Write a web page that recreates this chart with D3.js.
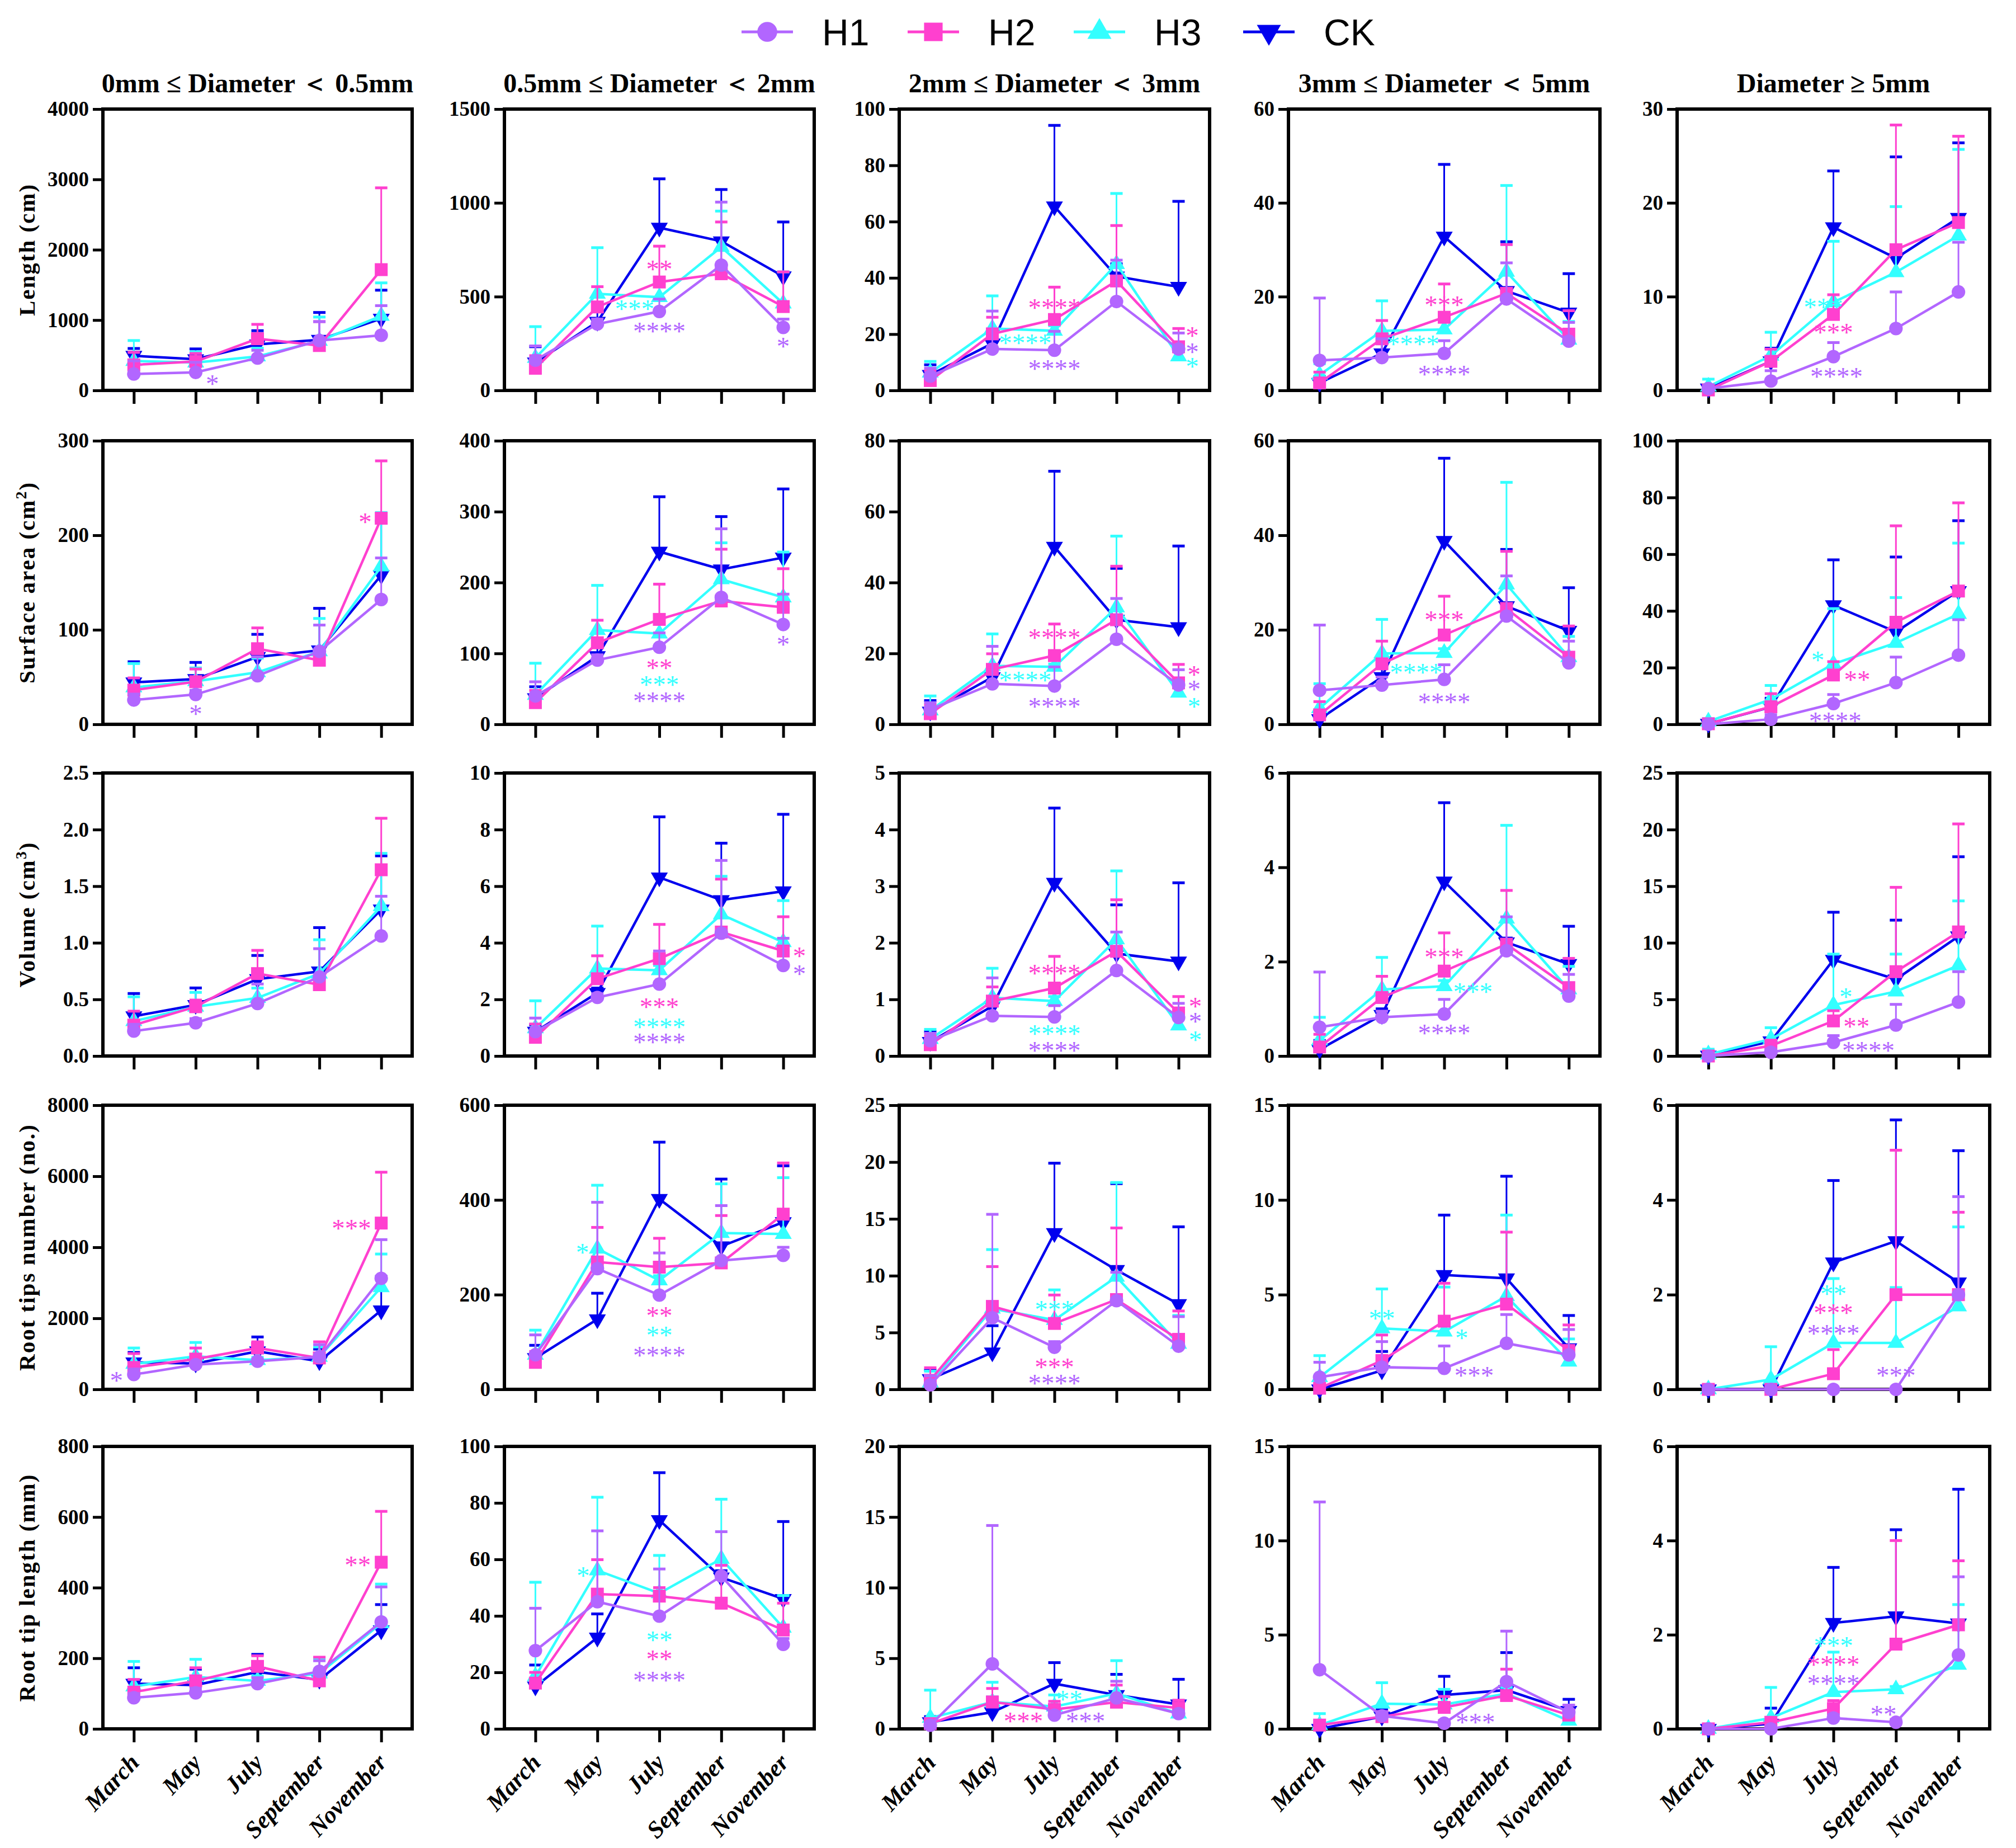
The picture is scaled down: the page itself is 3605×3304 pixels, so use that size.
<!DOCTYPE html>
<html>
<head>
<meta charset="utf-8">
<script src="https://cdnjs.cloudflare.com/ajax/libs/d3/7.8.5/d3.min.js"></script>
<style>
  body { margin: 0; background: #fff; }
  svg { display: block; }
</style>
</head>
<body>
<svg id="chart"></svg>
<script>
// ---------------- data ----------------
var months = ["March", "May", "July", "September", "November"];
var seriesNames = ["H1", "H2", "H3", "CK"];
var classTitles = ["0mm \u2264 Diameter \uFF1C 0.5mm", "0.5mm \u2264 Diameter \uFF1C 2mm",
  "2mm \u2264 Diameter \uFF1C 3mm", "3mm \u2264 Diameter \uFF1C 5mm", "Diameter \u2265 5mm"];
var metricTitles = [["Length (cm)", ""], ["Surface area (cm", "2", ")"], ["Volume (cm", "3", ")"],
  ["Root tips number (no.)", ""], ["Root tip length (mm)", ""]];

// y axis maximum and tick step per row (metric) and column (diameter class)
var yMax  = [[4000, 1500, 100, 60, 30], [300, 400, 80, 60, 100], [2.5, 10, 5, 6, 25],
             [8000, 600, 25, 15, 6], [800, 100, 20, 15, 6]];
var yStep = [[1000, 500, 20, 20, 10], [100, 100, 20, 20, 20], [0.5, 2, 1, 2, 5],
             [2000, 200, 5, 5, 2], [200, 20, 5, 5, 2]];

// means: [class][series H1,H2,H3,CK][month]; tops = mean + SD
var lengthMean = [
  [[233,256,460,709,784],[363,411,735,638,1717],[418,395,483,703,1059],[492,444,654,719,1020]],
  [[161,354,421,668,336],[118,445,578,622,447],[173,515,497,765,463],[149,366,868,795,608]],
  [[5.1,14.7,14.3,31.6,14.7],[3.5,20.1,25.2,38.9,15.5],[6.3,22,21.2,44.9,12.1],[5.5,16.7,65.4,40.5,36.8]],
  [[6.4,7,7.9,19.5,10.5],[1.6,11,15.6,20.7,12],[3.3,12.7,13,25.3,10.8],[1.6,7.9,32.8,21.2,16.6]],
  [[0.2,1.0,3.6,6.6,10.5],[0.05,3.1,8.1,15.0,17.9],[0.4,3.7,9.4,12.6,16.5],[0.2,3.1,17.4,14.1,18.4]]
];
var lengthTop = [
  [[420,400,570,978,1205],[541,525,939,978,2880],[709,550,600,1043,1529],[596,590,849,1108,1425]],
  [[237,380,487,1004,380],[185,553,769,898,632],[340,761,560,956,632],[233,450,1128,1071,898]],
  [[7.9,28.2,21,46.3,20.4],[7,26,36.7,58.6,22],[10.3,33.6,23,70,15],[9.1,20,94.2,45,67.2]],
  [[19.7,11,10.6,27.2,14.5],[3.9,14.9,22.7,31.1,17],[5.7,19.1,15,43.7,14.7],[3,12,48.2,31.7,24.9]],
  [[0.3,2.1,5.1,10.5,15.8],[0.3,4.4,10.2,28.3,27.1],[1.2,6.2,15.9,19.6,25.7],[0.5,4.5,23.4,24.9,26.4]]
];
// significance marks: [class, series, month position, value, label]
var lengthSig = [
  [0,"H1",1.27,136,"*"],
  [1,"H2",2,662,"**"],[1,"H3",1.6,451,"***"],[1,"H1",2,332,"****"],[1,"H1",4,251,"*"],
  [2,"H2",2,30.4,"****"],[2,"H3",1.53,17.9,"****"],[2,"H1",2,8.7,"****"],
  [2,"H2",4.22,20.4,"*"],[2,"H1",4.22,14.7,"*"],[2,"H3",4.22,9.5,"*"],
  [3,"H2",2,18.8,"***"],[3,"H3",1.5,10.5,"****"],[3,"H1",2,4.0,"****"],
  [4,"H3",1.84,9.2,"***"],[4,"H2",2,6.5,"***"],[4,"H1",2.05,1.8,"****"]
];

var areaMean = [
  [[25.7,31.6,51.4,77.2,132],[36.2,45.1,80,67.8,218],[39,45.6,55,77.2,167],[44.4,47.9,71.3,78.3,157.8]],
  [[40,90.6,108.7,179,140.8],[30.6,115,148,174,165],[41.5,133,128,204.5,179],[36.9,96.2,243.6,218.6,235.2]],
  [[4.2,11.4,10.8,24,11.1],[3,15.5,19.4,29.5,11.7],[3.9,16.5,16.2,33,8.9],[3.6,13.3,50.1,29.5,27.4]],
  [[7.2,8.3,9.5,22.9,13],[2,12.8,18.9,24.5,14.2],[3.4,15,15.1,29.6,14.2],[1.1,10,38.8,25,19.8]],
  [[0,1.8,7.3,14.7,24.4],[0.2,6.2,17.4,36,47],[1,8.8,21.3,28.7,38.9],[0.2,6.1,42,32.6,47]]
];
var areaTop = [
  [[32,36,71.3,105,176],[49.1,58.5,102,78,278.7],[64.3,59.6,70,112,224],[66.2,65.5,95.2,122.7,215]],
  [[60,98,129,275.8,183.6],[47.8,146.8,197.7,247,219.5],[86.2,196,150,256,243],[53,110,321,293,332]],
  [[6.1,22,16.2,35.5,15.4],[5.5,19.9,28.3,44.6,16.9],[8,25.5,17,53.1,11.4],[6.7,15,71.4,44,50.3]],
  [[21,10,12.6,31.4,17.6],[4.8,17.6,27.1,36.6,20.8],[8.6,22.2,16,51.2,18.6],[2,12,56.3,37,28.9]],
  [[0.3,3.4,10.5,23.7,36.9],[0.5,10.8,22.1,70,78.1],[2,13.7,40.8,44.7,63.9],[0.5,9.2,58,59,71.8]]
];
var areaSig = [
  [0,"H2",3.74,217,"*"],[0,"H1",1,14,"*"],
  [1,"H2",2,83.7,"**"],[1,"H3",2,59.6,"***"],[1,"H1",2,36.9,"****"],[1,"H1",4,116.5,"*"],
  [2,"H2",2,25.2,"****"],[2,"H3",1.53,13.3,"****"],[2,"H1",2,5.8,"****"],
  [2,"H2",4.25,14.9,"*"],[2,"H1",4.25,10.8,"*"],[2,"H3",4.25,5.8,"*"],
  [3,"H2",2,22.7,"***"],[3,"H3",1.55,11.6,"****"],[3,"H1",2,5.3,"****"],
  [4,"H3",1.75,23.7,"*"],[4,"H2",2.38,16.8,"**"],[4,"H1",2.03,2.2,"****"]
];

var volumeMean = [
  [[0.22,0.293,0.464,0.699,1.06],[0.273,0.435,0.728,0.63,1.645],[0.308,0.435,0.513,0.728,1.323],[0.351,0.451,0.679,0.747,1.294]],
  [[0.86,2.07,2.54,4.34,3.2],[0.66,2.73,3.44,4.38,3.71],[0.98,3.09,3.03,5.0,4.02],[0.86,2.23,6.31,5.51,5.82]],
  [[0.27,0.71,0.69,1.51,0.68],[0.2,0.97,1.2,1.85,0.76],[0.3,1.03,0.97,2.06,0.54],[0.25,0.88,3.06,1.81,1.67]],
  [[0.61,0.82,0.89,2.23,1.27],[0.19,1.24,1.8,2.37,1.45],[0.33,1.41,1.48,2.91,1.41],[0.14,0.87,3.7,2.41,1.95]],
  [[0,0.33,1.2,2.73,4.76],[0,0.9,3.1,7.45,10.96],[0.14,1.5,4.5,5.7,8.0],[0.04,1.3,8.5,6.77,10.57]]
];
var volumeTop = [
  [[0.28,0.33,0.636,0.948,1.411],[0.396,0.494,0.933,0.68,2.1],[0.523,0.562,0.6,1.027,1.79],[0.552,0.601,0.888,1.134,1.768]],
  [[1.34,2.2,3.71,6.91,4.16],[1.13,3.54,4.65,6.25,4.92],[1.95,4.59,3.2,6.35,5.49],[1.1,2.4,8.45,7.52,8.54]],
  [[0.4,1.38,0.89,2.19,0.93],[0.35,1.22,1.76,2.76,1.05],[0.47,1.55,1.05,3.27,0.7],[0.43,1.0,4.38,2.67,3.06]],
  [[1.78,0.95,1.2,2.95,1.73],[0.46,1.69,2.61,3.51,2.07],[0.82,2.09,1.6,4.89,1.9],[0.33,1.0,5.37,2.5,2.75]],
  [[0.05,0.6,1.8,4.56,7.45],[0.05,1.4,4.0,14.9,20.5],[0.6,2.5,9.0,9.0,13.7],[0.1,1.6,12.7,12.0,17.6]]
];
var volumeSig = [
  [1,"H2",2,1.84,"***"],[1,"H3",2,1.13,"****"],[1,"H1",2,0.59,"****"],
  [1,"H2",4.26,3.63,"*"],[1,"H1",4.26,3.0,"*"],
  [2,"H2",2,1.51,"****"],[2,"H3",2,0.44,"****"],[2,"H1",2,0.15,"****"],
  [2,"H2",4.27,0.93,"*"],[2,"H1",4.27,0.66,"*"],[2,"H3",4.27,0.34,"*"],
  [3,"H2",2,2.16,"***"],[3,"H3",2.46,1.42,"***"],[3,"H1",2,0.54,"****"],
  [4,"H3",2.2,5.5,"*"],[4,"H2",2.37,2.87,"**"],[4,"H1",2.56,0.72,"****"]
];

var tipsMean = [
  [[417,697,791,915,3125],[616,853,1164,884,4682],[716,928,822,915,2876],[760,728,1071,791,2223]],
  [[73,255,199,272,283],[57,269,258,267,370],[73,297,230,330,328],[66,148,402,302,353]],
  [[0.4,6.3,3.7,7.8,3.8],[0.8,7.3,5.8,7.9,4.4],[0.6,7.1,6.1,9.9,4.0],[0.9,3.25,13.75,10.5,7.5]],
  [[0.64,1.17,1.11,2.43,1.82],[0.06,1.52,3.6,4.5,2.05],[0.64,3.22,3.05,4.92,1.46],[0.0,1.0,6.04,5.86,2.17]],
  [[0,0,0,0,2.0],[0,0,0.33,2.0,2.0],[0,0.21,0.98,0.98,1.75],[0,0,2.68,3.13,2.26]]
];
var tipsTop = [
  [[573,750,850,1258,4215],[1008,1164,1338,1338,6114],[1164,1320,900,1195,3810],[1040,915,1475,1133,3180]],
  [[115,395,288,388,300],[80,342,319,367,478],[125,431,240,434,447],[93,203,522,444,472]],
  [[1.2,15.4,4.2,10.3,6.4],[1.9,10.8,8.3,14.2,6.9],[1.6,12.3,8.75,18.2,6.5],[1.7,5.6,19.9,18.1,14.3]],
  [[1.43,2.52,2.29,3.95,3.16],[0.2,2.87,5.6,8.3,3.4],[1.78,5.3,5.4,9.2,2.66],[0.1,2.0,9.2,11.25,3.9]],
  [[0,0,0,0,4.07],[0,0,0.84,5.05,3.74],[0,0.9,2.34,2.15,3.43],[0,0,4.41,5.69,5.04]]
];
var tipsSig = [
  [0,"H2",3.52,4620,"***"],[0,"H1",-0.28,324,"*"],
  [1,"H3",0.76,295,"*"],[1,"H2",2,162,"**"],[1,"H3",2,120,"**"],[1,"H1",2,78,"****"],
  [2,"H3",2,7.3,"***"],[2,"H2",2,2.2,"***"],[2,"H1",2,0.8,"****"],
  [3,"H3",1,3.9,"**"],[3,"H3",2.28,2.87,"*"],[3,"H1",2.48,0.88,"***"],
  [4,"H3",2,2.08,"**"],[4,"H2",2,1.68,"***"],[4,"H1",2,1.24,"****"],[4,"H1",3,0.35,"***"]
];

var tipLenMean = [
  [[88,102,128,163,303],[104,136,177,136,472],[120,147,136,157,299],[128,124,161,139,279]],
  [[27.7,45,39.9,54.1,29.9],[16.2,47.7,47,44.5,35],[18.6,56.1,48,60.2,35.8],[15.0,32.3,73.9,53.6,46]],
  [[0.26,4.6,0.97,2.19,1.08],[0.37,1.9,1.38,1.89,1.48],[0.77,1.9,1.58,2.5,1.08],[0.47,1.18,3.2,2.4,1.73]],
  [[3.14,0.69,0.3,2.51,0.88],[0.2,0.65,1.14,1.77,0.73],[0.2,1.34,1.29,1.87,0.43],[0,0.65,1.8,2.06,0.96]],
  [[0,0,0.23,0.14,1.57],[0,0.14,0.43,1.8,2.21],[0,0.23,0.78,0.84,1.36],[0,0.11,2.25,2.39,2.24]]
];
var tipLenTop = [
  [[100,115,145,193,402],[140,173,207,203,616],[191,197,150,200,410],[173,169,211,150,352]],
  [[42.7,70.1,56.6,69.8,32],[20,59.9,50,57.9,44.5],[51.9,82,61.4,81.3,47.2],[22.6,40.7,90.7,56,73.4]],
  [[0.4,14.4,1.2,3.37,1.3],[0.5,2.86,1.95,3.1,2.03],[2.74,3.3,2.4,4.83,1.3],[0.87,2.25,4.69,3.86,3.51]],
  [[12.05,0.9,0.45,5.19,1.26],[0.3,0.8,1.72,3.17,1.26],[0.81,2.45,2.1,2.2,0.6],[0.1,1.04,2.79,4.05,1.57]],
  [[0,0,0.3,0.2,3.23],[0,0.2,0.6,4.0,3.57],[0,0.88,1.63,0.9,2.64],[0,0.44,3.43,4.23,5.09]]
];
var tipLenSig = [
  [0,"H2",3.62,472,"**"],
  [1,"H3",0.77,55.3,"*"],[1,"H3",2,32.5,"**"],[1,"H2",2,25.7,"**"],[1,"H1",2,18.3,"****"],
  [2,"H2",1.5,0.77,"***"],[2,"H3",2.24,2.3,"**"],[2,"H1",2.5,0.77,"***"],
  [3,"H1",2.5,0.5,"***"],
  [4,"H3",2,1.83,"***"],[4,"H2",2,1.43,"****"],[4,"H1",2,1.02,"****"],[4,"H1",2.8,0.37,"**"]
];

// ---------------- layout & style ----------------
var W = 3605, H = 3304;
var colX = [[184, 737], [902, 1456], [1608, 2163], [2304, 2861], [2999, 3558]];
var rowY = [[195, 698], [788, 1295], [1382, 1888], [1976, 2484], [2586, 3091]];
var color = { H1: "#b266ff", H2: "#ff40cf", H3: "#33ffff", CK: "#0000ee" };
var shape = { H1: d3.symbolCircle, H2: d3.symbolSquare, H3: d3.symbolTriangle, CK: d3.symbolTriangle };
var symSize = { H1: 460, H2: 530, H3: 400, CK: 400 };
var drawOrder = ["CK", "H3", "H2", "H1"];
var serif = "'Liberation Serif', 'Times New Roman', serif";

var metrics = [
  { mean: lengthMean, top: lengthTop, sig: lengthSig },
  { mean: areaMean, top: areaTop, sig: areaSig },
  { mean: volumeMean, top: volumeTop, sig: volumeSig },
  { mean: tipsMean, top: tipsTop, sig: tipsSig },
  { mean: tipLenMean, top: tipLenTop, sig: tipLenSig }
];

var svg = d3.select("#chart").attr("width", W).attr("height", H)
  .style("font-family", serif);
svg.append("rect").attr("width", W).attr("height", H).attr("fill", "#fff");

function marker(g, name, size, x, y) {
  g.append("path")
    .attr("d", d3.symbol().type(shape[name]).size(size)())
    .attr("transform", "translate(" + x + "," + y + ")" + (name === "CK" ? " rotate(180)" : ""))
    .attr("fill", color[name]);
}

// ---------------- legend ----------------
var legend = svg.append("g").attr("class", "legend");
seriesNames.forEach(function (s, i) {
  var cx = 1372 + i * 297 + (s === "CK" ? 6 : 0), cy = 57;
  legend.append("line").attr("x1", cx - 46).attr("x2", cx + 46).attr("y1", cy).attr("y2", cy)
    .attr("stroke", color[s]).attr("stroke-width", 5);
  marker(legend, s, s === "H1" ? 1000 : (s === "H2" ? 1100 : 800), cx, cy);
  legend.append("text").attr("x", cx + 98).attr("y", cy + 24)
    .style("font-family", "'Liberation Sans', Arial, sans-serif").style("font-size", "66px")
    .text(s);
});

// ---------------- column titles ----------------
classTitles.forEach(function (t, c) {
  svg.append("text").attr("x", (colX[c][0] + colX[c][1]) / 2).attr("y", 165)
    .attr("text-anchor", "middle").style("font-weight", "bold").style("font-size", "48px")
    .text(t);
});

// ---------------- row (y axis) titles ----------------
metricTitles.forEach(function (t, r) {
  var cy = (rowY[r][0] + rowY[r][1]) / 2;
  var txt = svg.append("text").attr("transform", "translate(62," + cy + ") rotate(-90)")
    .attr("text-anchor", "middle").style("font-weight", "bold").style("font-size", "41px")
    .style("letter-spacing", "2px");
  txt.append("tspan").text(t[0]);
  if (t.length > 2) {
    txt.append("tspan").attr("baseline-shift", "super").style("font-size", "28px").text(t[1]);
    txt.append("tspan").text(t[2]);
  }
});

// ---------------- panels ----------------
metrics.forEach(function (m, r) {
  for (var c = 0; c < 5; c++) {
    var x0 = colX[c][0], x1 = colX[c][1], y0 = rowY[r][0], y1 = rowY[r][1];
    var x = d3.scalePoint().domain(months).range([x0, x1]).padding(0.5);
    var xPos = function (p) { return x0 + x.step() * (p + 0.5); };
    var y = d3.scaleLinear().domain([0, yMax[r][c]]).range([y1, y0]);
    var g = svg.append("g").attr("class", "panel r" + r + " c" + c);

    // axes
    var ticks = d3.range(0, yMax[r][c] + yStep[r][c] / 2, yStep[r][c]);
    var fmt = yStep[r][c] < 1 ? d3.format(".1f") : d3.format("d");
    var ya = g.append("g").attr("transform", "translate(" + x0 + ",0)")
      .call(d3.axisLeft(y).tickValues(ticks).tickFormat(fmt).tickSize(18).tickPadding(7));
    ya.select(".domain").remove();
    ya.selectAll(".tick line").attr("stroke", "#000").attr("stroke-width", 5);
    ya.selectAll(".tick text").style("font-family", serif).style("font-size", "37px")
      .style("font-weight", "bold").attr("fill", "#000");

    var xa = g.append("g").attr("transform", "translate(0," + y1 + ")")
      .call(d3.axisBottom(x).tickSize(24).tickFormat(""));
    xa.select(".domain").remove();
    xa.selectAll(".tick line").attr("stroke", "#000").attr("stroke-width", 5);

    if (r === 4) {
      months.forEach(function (mo) {
        g.append("text")
          .attr("transform", "translate(" + (x(mo) + 12) + "," + (y1 + 62) + ") rotate(-47)")
          .attr("text-anchor", "end").style("font-weight", "bold").style("font-style", "italic")
          .style("font-size", "43px").text(mo);
      });
    }

    // frame
    g.append("rect").attr("x", x0).attr("y", y0).attr("width", x1 - x0).attr("height", y1 - y0)
      .attr("fill", "none").attr("stroke", "#000").attr("stroke-width", 6);

    // series
    drawOrder.forEach(function (s) {
      var si = seriesNames.indexOf(s);
      var mean = m.mean[c][si], top = m.top[c][si];
      var sg = g.append("g").attr("class", "series " + s);
      mean.forEach(function (v, i) {
        if (top[i] > v) {
          var xc = x(months[i]);
          sg.append("line").attr("x1", xc).attr("x2", xc).attr("y1", y(v)).attr("y2", y(top[i]))
            .attr("stroke", color[s]).attr("stroke-width", 3);
          sg.append("line").attr("x1", xc - 11).attr("x2", xc + 11).attr("y1", y(top[i])).attr("y2", y(top[i]))
            .attr("stroke", color[s]).attr("stroke-width", 5);
        }
      });
      sg.append("path").datum(mean)
        .attr("d", d3.line().x(function (d, i) { return x(months[i]); }).y(function (d) { return y(d); }))
        .attr("fill", "none").attr("stroke", color[s]).attr("stroke-width", 4.5);
      mean.forEach(function (v, i) { marker(sg, s, symSize[s], x(months[i]), y(v)); });
    });

    // significance marks
    m.sig.filter(function (d) { return d[0] === c; }).forEach(function (d) {
      g.append("text").attr("x", xPos(d[2])).attr("y", y(d[3]) + 21)
        .attr("text-anchor", "middle").style("font-size", "47px").attr("fill", color[d[1]])
        .text(d[4]);
    });
  }
});
</script>
</body>
</html>
